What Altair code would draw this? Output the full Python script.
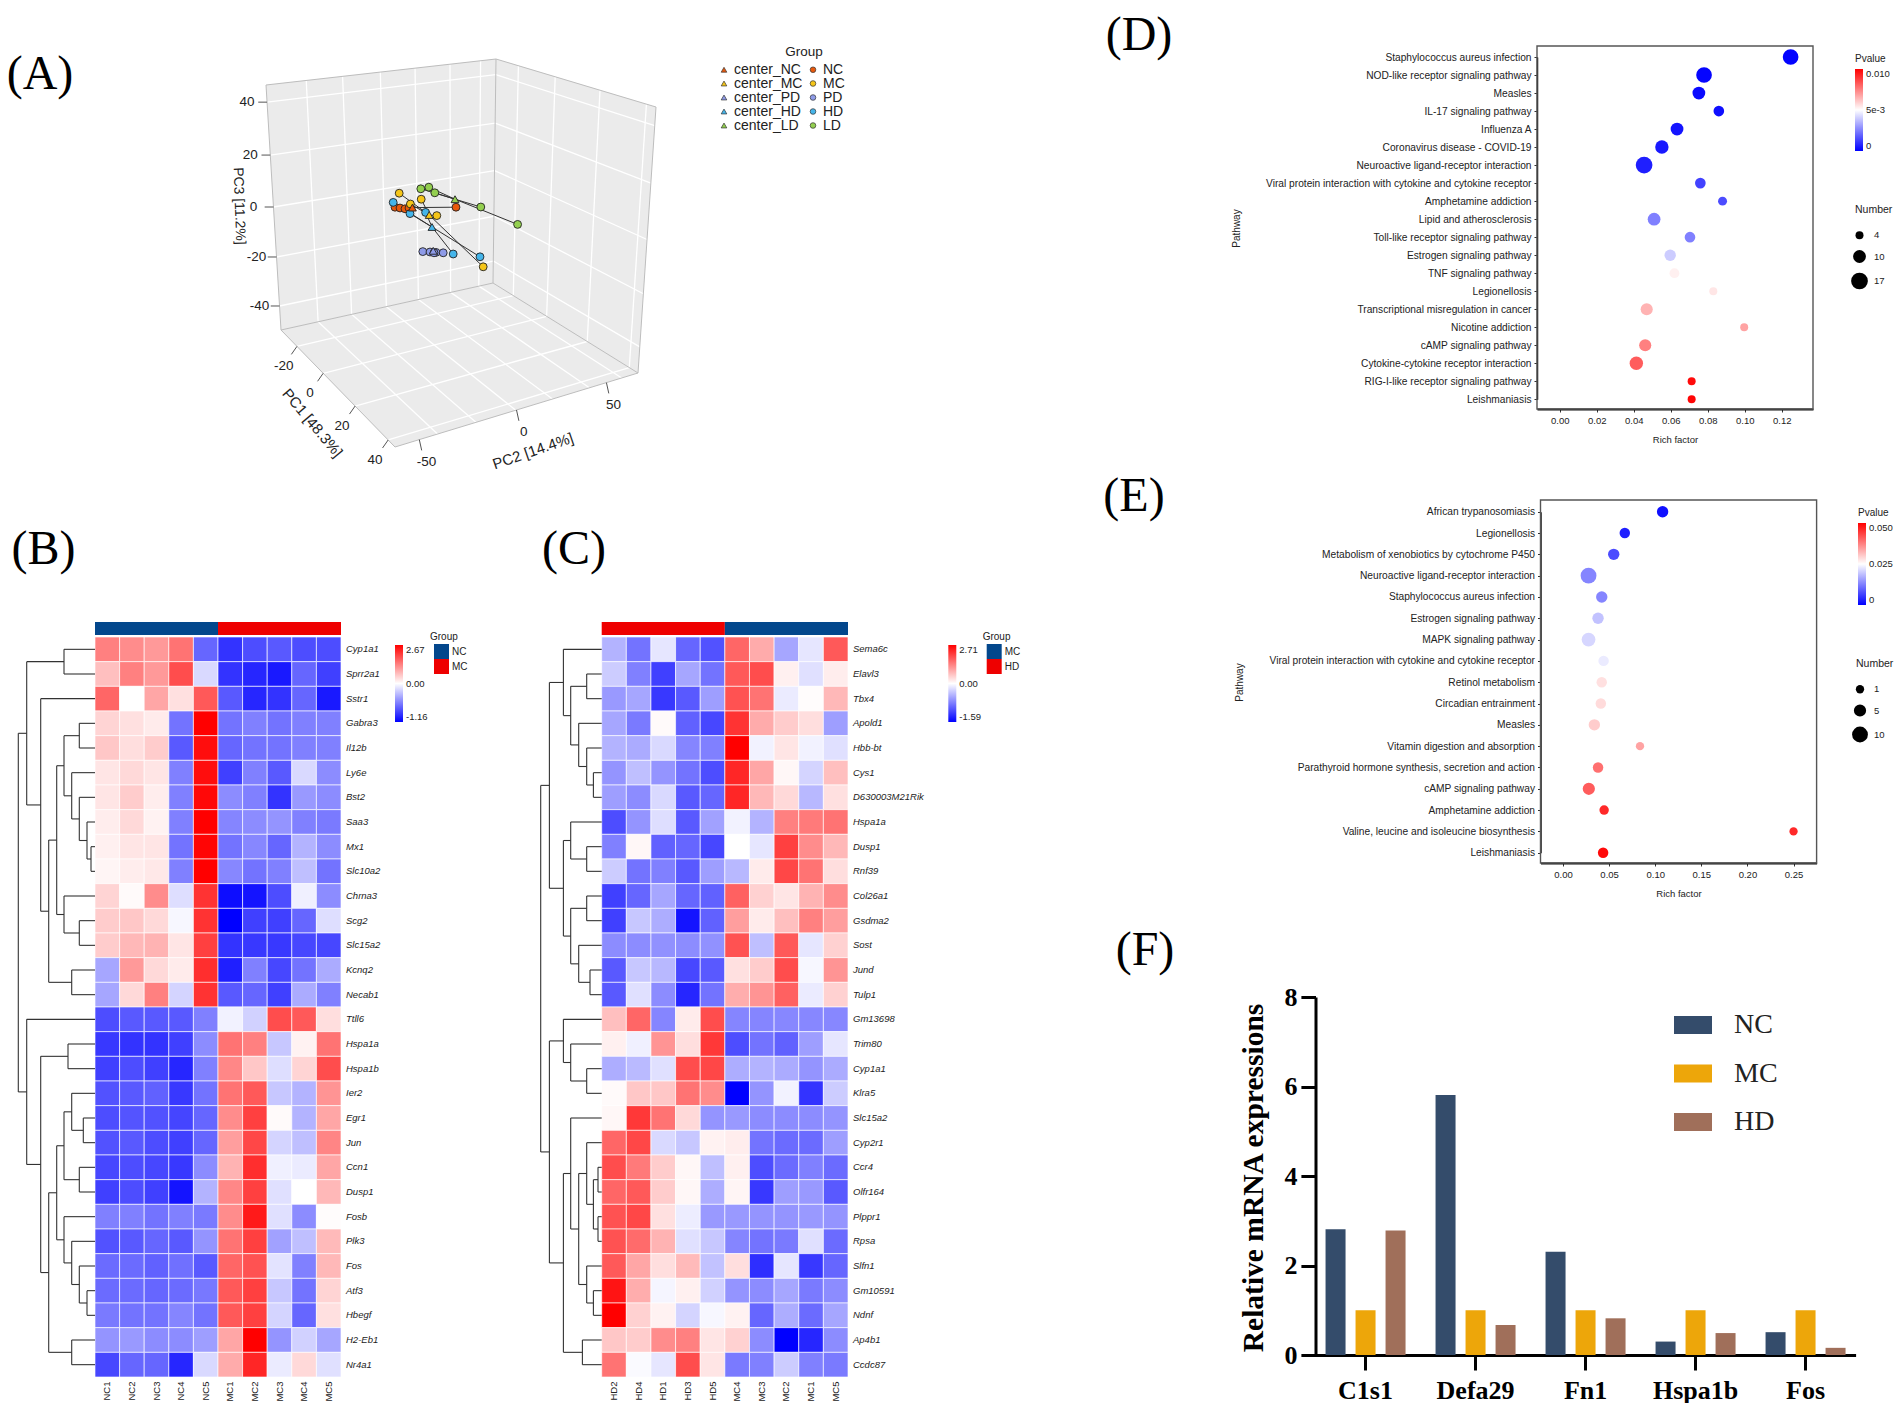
import altair as alt
import pandas as pd
import numpy as np

W, H = 1886, 1395
SANS = "Liberation Sans"
SERIF = "Liberation Serif"
INK = "#222222"

# ---------------- Panel B heat map (values are colour-bar fractions: -1 bottom, +1 top)
B_SAMPLES = ["NC1","NC2","NC3","NC4","NC5","MC1","MC2","MC3","MC4","MC5"]
B_GENES = ["Cyp1a1","Sprr2a1","Sstr1","Gabra3","Il12b","Ly6e","Bst2","Saa3","Mx1","Slc10a2","Chrna3","Scg2","Slc15a2","Kcnq2","Necab1","Ttll6","Hspa1a","Hspa1b","Ier2","Egr1","Jun","Ccn1","Dusp1","Fosb","Plk3","Fos","Atf3","Hbegf","H2-Eb1","Nr4a1"]
B_VALUES = [
 [.5,.45,.4,.55,-.6,-.8,-.7,-.65,-.7,-.7],
 [.25,.5,.4,.7,-.15,-.8,-.85,-.9,-.6,-.75],
 [.6,0,.35,.12,.65,-.65,-.85,-.8,-.6,-.9],
 [.17,.12,.08,-.55,1,-.55,-.5,-.55,-.5,-.5],
 [.22,.13,.2,-.65,.95,-.6,-.55,-.55,-.5,-.5],
 [.1,.15,.1,-.5,.95,-.75,-.5,-.65,-.15,-.45],
 [.1,.2,.07,-.5,.97,-.45,-.5,-.8,-.4,-.45],
 [.07,.15,.05,-.5,1,-.48,-.45,-.42,-.5,-.52],
 [.06,.1,.1,-.55,.98,-.55,-.47,-.6,-.3,-.45],
 [.04,.07,.09,-.5,1,-.47,-.55,-.5,-.25,-.55],
 [.17,.02,.45,-.13,.8,-.95,-.92,-.7,-.06,-.45],
 [.2,.22,.15,-.03,.8,-1,-.75,-.75,-.6,-.13],
 [.2,.28,.3,.1,.75,-.8,-.78,-.78,-.72,-.72],
 [-.35,.4,.15,.08,.82,-.88,-.5,-.72,-.55,-.33],
 [-.35,.15,.5,-.17,.8,-.65,-.6,-.75,-.33,-.5],
 [-.7,-.65,-.65,-.65,-.5,-.05,-.18,.7,.65,.13],
 [-.78,-.8,-.8,-.75,-.45,.55,.5,-.22,.05,.55],
 [-.75,-.7,-.75,-.85,-.5,.47,.22,-.13,.17,.7],
 [-.68,-.65,-.62,-.78,-.55,.55,.65,-.22,-.3,.42],
 [-.7,-.67,-.68,-.73,-.6,.45,.75,.02,-.3,.35],
 [-.68,-.65,-.7,-.75,-.6,.38,.72,-.17,-.25,.48],
 [-.72,-.7,-.72,-.78,-.45,.3,.82,-.06,-.08,.35],
 [-.75,-.7,-.75,-.92,-.3,.47,.75,-.12,0,.28],
 [-.5,-.5,-.55,-.5,-.52,.45,.9,-.12,-.45,.01],
 [-.68,-.65,-.6,-.65,-.42,.55,.75,-.37,-.25,.27],
 [-.58,-.58,-.62,-.56,-.65,.6,.68,-.11,-.5,.28],
 [-.58,-.58,-.6,-.58,-.53,.65,.75,-.22,-.55,.17],
 [-.52,-.55,-.55,-.48,-.55,.65,.75,-.17,-.6,.12],
 [-.42,-.4,-.45,-.45,-.38,.35,1,-.42,-.18,-.35],
 [-.72,-.6,-.6,-.85,-.15,.33,.85,-.08,.15,-.12],
]
B_TREE = (76.7,
  (68.3, (31,"Cyp1a1","Sprr2a1"),
    (54.3,"Sstr1",
      (46.3,
        (38.3,
          (31,(15.7,"Gabra3","Il12b"),
              (23.3,"Ly6e",(15.7,"Bst2",(8,"Saa3",(4,"Mx1","Slc10a2"))))),
          (31,"Chrna3",(15.7,"Scg2","Slc15a2"))),
        (23.3,"Kcnq2","Necab1")))),
  (68.3,"Ttll6",
    (54.3,(27,"Hspa1a","Hspa1b"),
      (46.3,
        (38.3,
          (31,(23.3,"Ier2",(11.7,"Egr1","Jun")),(15.7,"Ccn1","Dusp1")),
          (31,"Fosb",(23.3,"Plk3",(15.7,"Fos",(8,"Atf3","Hbegf"))))),
        (23.3,"H2-Eb1","Nr4a1")))))

# ---------------- Panel C heat map
C_SAMPLES = ["HD2","HD4","HD1","HD3","HD5","MC4","MC3","MC2","MC1","MC5"]
C_GENES = ["Sema6c","Elavl3","Tbx4","Apold1","Hbb-bt","Cys1","D630003M21Rik","Hspa1a","Dusp1","Rnf39","Col26a1","Gsdma2","Sost","Jund","Tulp1","Gm13698","Trim80","Cyp1a1","Klra5","Slc15a2","Cyp2r1","Ccr4","Olfr164","Plppr1","Rpsa","Slfn1","Gm10591","Ndnf","Ap4b1","Ccdc87"]
C_VALUES = [
 [-.3,-.55,-.1,-.6,-.68,.6,.33,-.35,-.1,.65],
 [-.2,-.5,-.75,-.35,-.55,.65,.7,.06,-.12,.07],
 [-.4,-.35,-.78,-.65,-.38,.68,.55,-.08,.01,.28],
 [-.35,-.52,.02,-.62,-.72,.8,.33,.2,.13,-.38],
 [-.3,-.33,-.15,-.48,-.5,1,-.05,.1,-.05,-.12],
 [-.42,-.25,-.42,-.55,-.7,.85,.35,.03,-.17,.25],
 [-.38,-.45,-.15,-.65,-.6,.85,.28,.15,-.28,.12],
 [-.7,-.42,-.13,-.65,-.37,-.05,-.3,.5,.52,.55],
 [-.5,.03,-.62,-.6,-.72,0,-.1,.75,.45,.28],
 [-.2,-.55,-.5,-.65,-.38,-.28,.08,.72,.55,.13],
 [-.75,-.6,-.35,-.6,-.62,.62,.18,.1,.3,.45],
 [-.75,-.22,-.32,-.92,-.62,.38,.08,.25,.5,.38],
 [-.45,-.45,-.43,-.45,-.43,.68,-.25,.65,-.1,.18],
 [-.65,-.22,-.28,-.72,-.65,.12,.2,.7,-.03,.42],
 [-.65,-.12,-.45,-.85,-.55,.32,.42,.62,-.08,.18],
 [.25,.6,-.48,.08,.7,-.48,-.48,-.47,-.47,-.47],
 [.06,-.06,.42,.13,.78,-.7,-.55,-.62,-.38,-.1],
 [-.32,-.27,-.12,.7,.72,-.32,-.3,-.33,-.42,-.33],
 [.02,.22,.22,.55,.45,-1,-.42,-.05,-.8,-.2],
 [.03,.78,.55,.15,-.42,-.4,-.45,-.45,-.45,-.42],
 [.6,.72,-.15,-.22,.05,.07,-.55,-.58,-.58,-.38],
 [.7,.52,.2,.03,-.25,.06,-.7,-.58,-.5,-.58],
 [.6,.65,.2,.03,-.32,.04,-.78,-.38,-.4,-.65],
 [.68,.72,.12,-.07,-.4,-.4,-.42,-.42,-.4,-.42],
 [.68,.58,.3,-.12,-.22,-.48,-.55,-.52,-.12,-.58],
 [.65,.35,.13,.27,-.24,.13,-.82,-.1,-.78,-.6],
 [.92,.32,-.04,.06,-.18,-.42,-.45,-.35,-.52,-.45],
 [1,.18,.05,-.17,-.03,.05,-.6,-.32,-.58,-.35],
 [.22,.2,.45,.5,.1,.18,-.45,-1,-.85,-.45],
 [.55,-.02,-.1,.7,.1,-.52,-.5,-.2,-.5,-.52],
]
C_TREE = (61,
  (52.3,
    (38.3,"Sema6c",
      (31,(15,"Elavl3","Tbx4"),
          (23,"Apold1",(15,"Hbb-bt",(8.3,"Cys1","D630003M21Rik"))))),
    (38.3,
      (31,"Hspa1a",(15,"Dusp1","Rnf39")),
      (31,(15,"Col26a1","Gsdma2"),(23,"Sost",(11.7,"Jund","Tulp1"))))),
  (52.3,
    (38.3,"Gm13698",(31,"Trim80",(15,"Cyp1a1","Klra5"))),
    (38.3,
      (31,"Slc15a2",
        (23,(15,"Cyp2r1",(8.3,(3.7,"Ccr4","Olfr164"),(3.7,"Plppr1","Rpsa"))),
            (15,"Slfn1",(8.3,"Gm10591","Ndnf")))),
      (19.3,"Ap4b1","Ccdc87"))))

# ---------------- Panel D bubble chart
D_PATHWAYS = ["Staphylococcus aureus infection","NOD-like receptor signaling pathway","Measles","IL-17 signaling pathway","Influenza A","Coronavirus disease - COVID-19","Neuroactive ligand-receptor interaction","Viral protein interaction with cytokine and cytokine receptor","Amphetamine addiction","Lipid and atherosclerosis","Toll-like receptor signaling pathway","Estrogen signaling pathway","TNF signaling pathway","Legionellosis","Transcriptional misregulation in cancer","Nicotine addiction","cAMP signaling pathway","Cytokine-cytokine receptor interaction","RIG-I-like receptor signaling pathway","Leishmaniasis"]
D_RICH = [.1248,.078,.0752,.086,.0634,.0552,.0456,.076,.088,.051,.0704,.0597,.062,.083,.047,.0997,.0462,.0414,.0713,.0713]
D_P = [.00005,.0001,.0002,.0003,.0004,.0005,.0006,.0013,.0015,.0025,.0025,.004,.0053,.0055,.0065,.0068,.0075,.0082,.0098,.0099]
D_NUM = [15,15,10,7,10,11,17,7,5,10,7,8,6,4,9,4,9,11,4,4]

# ---------------- Panel E bubble chart
E_PATHWAYS = ["African trypanosomiasis","Legionellosis","Metabolism of xenobiotics by cytochrome P450","Neuroactive ligand-receptor interaction","Staphylococcus aureus infection","Estrogen signaling pathway","MAPK signaling pathway","Viral protein interaction with cytokine and cytokine receptor","Retinol metabolism","Circadian entrainment","Measles","Vitamin digestion and absorption","Parathyroid hormone synthesis, secretion and action","cAMP signaling pathway","Amphetamine addiction","Valine, leucine and isoleucine biosynthesis","Leishmaniasis"]
E_RICH = [.108,.067,.055,.0277,.042,.038,.0277,.044,.042,.041,.034,.0835,.038,.028,.0446,.25,.0435]
E_P = [.0015,.003,.0075,.013,.013,.019,.021,.023,.028,.0285,.03,.034,.039,.041,.046,.046,.049]
E_NUM = [4,3,4,10,4,4,7,3,3,3,4,1,3,5,2,1,3]

# ---------------- Panel F grouped bars
F_GENES = ["C1s1","Defa29","Fn1","Hspa1b","Fos"]
F_GROUPS = ["NC","MC","HD"]
F_NC = [2.81,5.81,2.31,.3,.51]
F_MC = [1,1,1,1,1]
F_HD = [2.78,.67,.82,.49,.16]
F_COLORS = ["#344c6b","#eda60a","#a06f5a"]

# ---------------- Panel A: points (0-100 view units)
A_SAMPLES = {
 "NC": [(33.75,60.7),(35,60.5),(36.25,60.3),(37.25,60.5),(49,60.7)],
 "MC": [(34.8,64.2),(37.6,61.5),(40.3,62.7),(44.2,58.6),(55.8,45.8)],
 "PD": [(40.7,49.6),(42.5,49.5),(44,49.4),(43.5,49.3),(45.8,49.3)],
 "HD": [(33.3,61.9),(37.5,59.1),(41.4,59.4),(48.3,49),(55,48.3)],
 "LD": [(40.2,65.3),(42.2,65.7),(43.7,64.3),(55.2,60.75),(64.4,56.4)],
}
A_CENTERS = {"NC":(38.1,60.6),"MC":(42.3,58.75),"PD":(43.3,49.8),"HD":(43,55.75),"LD":(48.75,62.7)}
A_COLORS = {"NC":"#e8590c","MC":"#f5c518","PD":"#8e9be8","HD":"#45b5ea","LD":"#93cf4f"}
# box corners in the same view units
LT, BT, RT = (1.5,91.25), (59,97.75), (99,85.75)
LB, BB, RB, FB = (5.25,30), (58.25,41.75), (94.5,19.25), (33.75,.75)
PC3_TICKS = [40,20,0,-20,-40];   PC3_FRAC = [.07,.286,.498,.702,.902]
PC1_TICKS = [-20,0,20,40];       PC1_FRAC = [.14,.37,.65,.94]
PC2_GRID_FRAC = [.175,.333,.497,.648,.8,.933]
PC2_TICKS = [-50,0,50];          PC2_FRAC = [.10,.50,.87]

HEAT = ["#0000ff","#ffffff","#ff0000"]
GROUP_BLUE, GROUP_RED = "#03478c", "#ee0000"

def P(v):
    return v - 8

def lerp(a, b, t):
    return (a[0] + (b[0]-a[0])*t, a[1] + (b[1]-a[1])*t)

def tree_segments(tree, genes):
    segs = []
    def walk(node):
        if isinstance(node, str):
            return genes.index(node) + .5, 0.0
        h, l, r = node
        yl, hl = walk(l)
        yr, hr = walk(r)
        segs.append(dict(a=hl, b=h, y=yl, y2=yl))
        segs.append(dict(a=hr, b=h, y=yr, y2=yr))
        segs.append(dict(a=h, b=h, y=yl, y2=yr))
        return (yl+yr)/2, h
    walk(tree)
    return pd.DataFrame(segs)

def heat_panel(samples, genes, values, tree, x0, x1, labels, colors, bar_domain, bar_order, leg_x, grp_x):
    top, bottom = P(637), P(1377)
    rows = [dict(gene=g, sample=s, v=values[i][j]) for i, g in enumerate(genes) for j, s in enumerate(samples)]
    gx = alt.Scale(domain=samples, range=[P(x0), P(x1)], paddingInner=0, paddingOuter=0)
    gy = alt.Scale(domain=genes, range=[top, bottom], paddingInner=0, paddingOuter=0)
    expr = f"datum.value > 0.5 ? '{labels[0]}' : datum.value < -0.5 ? '{labels[2]}' : '{labels[1]}'"
    cells = alt.Chart(pd.DataFrame(rows)).mark_rect(stroke="#ffffff", strokeWidth=.8, strokeOpacity=.8).encode(
        x=alt.X("sample:N", scale=gx, sort=samples, title=None,
                axis=alt.Axis(orient="bottom", offset=bottom-H, domain=False, ticks=False, labelAngle=270,
                              labelFont=SANS, labelFontSize=9.5, labelColor=INK, labelPadding=4, labelOverlap=False,
                              labelAlign="right", labelBaseline="middle")),
        y=alt.Y("gene:N", scale=gy, sort=genes, title=None,
                axis=alt.Axis(orient="right", offset=P(x1)-W, domain=False, ticks=False,
                              labelFont=SANS, labelFontSize=9.5, labelFontStyle="italic", labelColor=INK,
                              labelPadding=4.5, labelOverlap=False)),
        color=alt.Color("v:Q", scale=alt.Scale(domain=[-1,0,1], range=HEAT, interpolate="rgb"),
                        legend=alt.Legend(orient="none", legendX=P(leg_x), legendY=P(645), title=None,
                                          values=[1,0,-1], labelExpr=expr, gradientLength=77, gradientThickness=8,
                                          labelFont=SANS, labelFontSize=9.5, labelColor=INK, labelOffset=3)),
    )
    start = 0
    bars = []
    for name in bar_order:
        bars.append(dict(group=name, s=start, e=start+5, t=0, b=1))
        start += 5
    bar = alt.Chart(pd.DataFrame(bars)).mark_rect().encode(
        x=alt.X("s:Q", scale=alt.Scale(domain=[0,10], range=[P(x0), P(x1)], nice=False, zero=False), axis=None),
        x2="e:Q",
        y=alt.Y("t:Q", scale=alt.Scale(domain=[0,1], range=[P(622), P(635)], nice=False, zero=False), axis=None),
        y2="b:Q",
        color=alt.Color("group:N", scale=alt.Scale(domain=bar_domain, range=colors),
                        legend=alt.Legend(orient="none", legendX=P(grp_x), legendY=P(632), title="Group",
                                          titleFont=SANS, titleFontSize=10, titleFontWeight="normal", titleColor=INK,
                                          titlePadding=2, symbolType="square", symbolSize=225, symbolStrokeWidth=0,
                                          symbolOpacity=1, symbolOffset=4, rowPadding=0, labelFont=SANS,
                                          labelFontSize=10, labelColor=INK, labelOffset=3)),
    )
    seg_df = tree_segments(tree, genes)
    span = 80
    dend = alt.Chart(seg_df).mark_rule(color="#333333", strokeWidth=1.1).encode(
        x=alt.X("a:Q", scale=alt.Scale(domain=[0,span], range=[P(x0), P(x0)-span], nice=False, zero=False), axis=None),
        x2="b:Q",
        y=alt.Y("y:Q", scale=alt.Scale(domain=[0,len(genes)], range=[top, bottom], nice=False, zero=False), axis=None),
        y2="y2:Q",
    )
    return [cells, bar, dend]

def bubble_panel(names, rich, pv, num, x0, x1, y0, y1, row0, rowN, xdom, xticks, pdom, plabels, sizedom, sizerange, sizevals,
                 leg_x, leg_y, num_x, num_y, path_x, path_y, rich_x, rich_y):
    df = pd.DataFrame(dict(name=names, rich=rich, p=pv, n=num))
    xs = alt.Scale(domain=xdom, range=[P(x0), P(x1)], nice=False, zero=False)
    frame = alt.Chart(pd.DataFrame([dict(a=xdom[0], b=xdom[1], c=0, d=1)])).mark_rect(fill=None, stroke="#555555", strokeWidth=1.4).encode(
        x=alt.X("a:Q", scale=xs, axis=None), x2="b:Q",
        y=alt.Y("c:Q", scale=alt.Scale(domain=[0,1], range=[P(y1), P(y0)], nice=False, zero=False), axis=None), y2="d:Q")
    expr = f"datum.value > {pdom[1]*1.5} ? '{plabels[0]}' : datum.value > {pdom[1]*.5} ? '{plabels[1]}' : '{plabels[2]}'"
    pts = alt.Chart(df).mark_circle(opacity=1).encode(
        x=alt.X("rich:Q", scale=xs, title="Rich factor",
                axis=alt.Axis(orient="bottom", offset=P(y1)-H, values=xticks, format=".2f", domainColor="#111111", domainWidth=2,
                              tickColor="#333333", tickSize=3, labelFont=SANS, labelFontSize=9.5, labelColor=INK, labelPadding=3,
                              grid=False, titleFont=SANS, titleFontSize=9.5, titleFontWeight="normal", titleColor=INK,
                              titleX=P(rich_x), titleY=rich_y-y1, titleAlign="center", titleBaseline="middle")),
        y=alt.Y("name:N", sort=names, title="Pathway",
                scale=alt.Scale(type="point", domain=names, range=[P(row0), P(rowN)], padding=0),
                axis=alt.Axis(orient="left", offset=-P(x0), domainColor="#111111", domainWidth=1.5, tickColor="#333333", tickSize=3,
                              labelFont=SANS, labelFontSize=10.2, labelColor=INK, labelPadding=3, labelOverlap=False, labelLimit=400,
                              grid=False, titleFont=SANS, titleFontSize=10, titleFontWeight="normal", titleColor=INK,
                              titleX=path_x-x0, titleY=P(path_y), titleAngle=270, titleAlign="center", titleBaseline="middle")),
        color=alt.Color("p:Q", scale=alt.Scale(domain=pdom, range=HEAT, interpolate="rgb"),
                        legend=alt.Legend(orient="none", legendX=P(leg_x), legendY=P(leg_y), title="Pvalue", values=pdom[::-1],
                                          labelExpr=expr, gradientLength=82, gradientThickness=8, titleFont=SANS, titleFontSize=10,
                                          titleFontWeight="normal", titleColor=INK, titlePadding=5, labelFont=SANS, labelFontSize=9.5,
                                          labelColor=INK, labelOffset=3)),
        size=alt.Size("n:Q", scale=alt.Scale(domain=sizedom, range=sizerange, zero=False, nice=False),
                      legend=alt.Legend(orient="none", legendX=P(num_x), legendY=P(num_y), title="Number", values=sizevals,
                                        symbolFillColor="#000000", symbolStrokeWidth=0, symbolOpacity=1, titleFont=SANS,
                                        titleFontSize=10.5, titleFontWeight="normal", titleColor=INK, titlePadding=15,
                                        symbolOffset=-4, labelFont=SANS, labelFontSize=9.5, labelColor=INK, rowPadding=9.5, labelOffset=6)),
    )
    return [frame, pts]

# ------------------- Panel A layers
AX = alt.Scale(domain=[0,100], range=[252,652], nice=False, zero=False)
AY = alt.Scale(domain=[0,100], range=[442,42], nice=False, zero=False)

def poly_area(poly, face):
    xs = sorted(p[0] for p in poly)
    n = len(poly)
    out = []
    for x in xs:
        ys = []
        for i in range(n):
            a, b = poly[i], poly[(i+1) % n]
            lo, hi = min(a[0], b[0]), max(a[0], b[0])
            if lo <= x <= hi and hi > lo:
                ys.append(a[1] + (b[1]-a[1])*(x-a[0])/(b[0]-a[0]))
        out.append(dict(face=face, u=x, v=max(ys), v2=min(ys)))
    return out

def seg(a, b):
    return dict(u=a[0], v=a[1], u2=b[0], v2=b[1])

def a_rules(segs, color, width):
    return alt.Chart(pd.DataFrame(segs)).mark_rule(color=color, strokeWidth=width).encode(
        x=alt.X("u:Q", scale=AX, axis=None), x2="u2:Q",
        y=alt.Y("v:Q", scale=AY, axis=None), y2="v2:Q")

def a_text(rows, size, angle=0, weight="normal"):
    return alt.Chart(pd.DataFrame(rows)).mark_text(font=SANS, fontSize=size, angle=angle, color=INK, fontWeight=weight,
                                                   align="center", baseline="middle").encode(
        x=alt.X("u:Q", scale=AX, axis=None), y=alt.Y("v:Q", scale=AY, axis=None), text="t:N")

walls = poly_area([LT,BT,BB,LB],"left") + poly_area([BT,RT,RB,BB],"right") + poly_area([LB,BB,RB,FB],"floor")
a_walls = alt.Chart(pd.DataFrame(walls)).mark_area(color="#ebebeb", opacity=1).encode(
    x=alt.X("u:Q", scale=AX, axis=None), y=alt.Y("v:Q", scale=AY, axis=None), y2="v2:Q", detail="face:N")

grid = []
for t in PC2_GRID_FRAC:
    grid.append(seg(lerp(LT,BT,t), lerp(LB,BB,t)))
    grid.append(seg(lerp(LB,BB,t), lerp(FB,RB,t)))
for s in PC3_FRAC:
    grid.append(seg(lerp(LT,LB,s), lerp(BT,BB,s)))
    grid.append(seg(lerp(BT,BB,s), lerp(RT,RB,s)))
for f in PC1_FRAC:
    grid.append(seg(lerp(BT,RT,f), lerp(BB,RB,f)))
    grid.append(seg(lerp(LB,FB,f), lerp(BB,RB,f)))
a_grid = a_rules(grid, "#ffffff", 1.3)
edges = [seg(LT,BT), seg(BT,RT), seg(LT,LB), seg(BT,BB), seg(LB,BB), seg(BB,RB), seg(LB,FB), seg(FB,RB), seg(RT,RB)]
a_edges = a_rules(edges, "#bdbdbd", 1)

ticks, tick_labels = [], []
for val, s in zip(PC3_TICKS, PC3_FRAC):
    p = lerp(LT,LB,s)
    ticks.append(seg(p, (p[0]-2.2, p[1])))
    tick_labels.append(dict(u=p[0]-5, v=p[1], t=str(val)))
for val, f in zip(PC1_TICKS, PC1_FRAC):
    p = lerp(LB,FB,f)
    ticks.append(seg(p, (p[0]-1.4, p[1]-2)))
    tick_labels.append(dict(u=p[0]-3.3, v=p[1]-4.9, t=str(val)))
for val, f in zip(PC2_TICKS, PC2_FRAC):
    p = lerp(FB,RB,f)
    ticks.append(seg(p, (p[0]+.6, p[1]-2.7)))
    tick_labels.append(dict(u=p[0]+1.8, v=p[1]-5.6, t=str(val)))
a_ticks = a_rules(ticks, "#555555", 1)
a_tick_text = a_text(tick_labels, 13.5)
a_t3 = a_text([dict(u=-5.25, v=61, t="PC3 [11.2%]")], 14, 88)
a_t1 = a_text([dict(u=13.1, v=6.75, t="PC1 [48.3%]")], 15, 50)
a_t2 = a_text([dict(u=68.25, v=-.25, t="PC2 [14.4%]")], 15, 341)
a_group = a_text([dict(u=136, v=99.5, t="Group")], 13.5)

a_links_rows = []
a_pts_rows = []
for g, pts in A_SAMPLES.items():
    for p in pts:
        a_links_rows.append(seg(A_CENTERS[g], p))
        a_pts_rows.append(dict(u=p[0], v=p[1], k=g))
for g, c in A_CENTERS.items():
    a_pts_rows.append(dict(u=c[0], v=c[1], k="center_"+g))
a_links = a_rules(a_links_rows, "#333333", 1)
groups = list(A_CENTERS)
a_domain = ["center_"+g for g in groups] + groups
a_points = alt.Chart(pd.DataFrame(a_pts_rows)).mark_point(filled=True, opacity=1, stroke="#222222", strokeWidth=.9, size=62).encode(
    x=alt.X("u:Q", scale=AX, axis=None),
    y=alt.Y("v:Q", scale=AY, axis=None),
    color=alt.Color("k:N", scale=alt.Scale(domain=a_domain, range=[A_COLORS[g] for g in groups]*2),
                    legend=alt.Legend(orient="none", legendX=P(717), legendY=P(63), title=None, columns=2, columnPadding=3,
                                      rowPadding=-2.7, symbolSize=32, symbolStrokeColor="#333333", symbolStrokeWidth=.7,
                                      labelFont=SANS, labelFontSize=14, labelColor=INK, labelOffset=3, clipHeight=13)),
    shape=alt.Shape("k:N", scale=alt.Scale(domain=a_domain, range=["triangle-up"]*5+["circle"]*5)),
)

# ------------------- Panel F
f_rows = [dict(gene=g, group=n, v=v) for n, vals in zip(F_GROUPS, [F_NC,F_MC,F_HD]) for g, v in zip(F_GENES, vals)]
f_bars = alt.Chart(pd.DataFrame(f_rows)).mark_bar().encode(
    x=alt.X("gene:N", sort=F_GENES, title=None,
            scale=alt.Scale(domain=F_GENES, range=[P(1315.5), P(1855.6)], paddingInner=.1818, paddingOuter=.0459),
            axis=alt.Axis(orient="bottom", offset=P(1355)-H, labelAngle=0, domainColor="#000000", domainWidth=3, tickColor="#000000",
                          tickWidth=3, tickSize=15, labelFont=SERIF, labelFontSize=26, labelFontWeight="bold", labelColor="#000000",
                          labelPadding=7, labelOverlap=False, grid=False)),
    xOffset=alt.XOffset("group:N", sort=F_GROUPS, scale=alt.Scale(domain=F_GROUPS, paddingInner=1/3, paddingOuter=1/6)),
    y=alt.Y("v:Q", title="Relative mRNA expressions",
            scale=alt.Scale(domain=[0,8], range=[P(1355), P(997)], nice=False, zero=False),
            axis=alt.Axis(orient="left", offset=-P(1315.5), values=[0,2,4,6,8], format="d", domainColor="#000000", domainWidth=3,
                          tickColor="#000000", tickWidth=3, tickSize=14.6, labelFont=SERIF, labelFontSize=26, labelFontWeight="bold",
                          labelColor="#000000", labelPadding=4, grid=False, titleFont=SERIF, titleFontSize=29.5, titleFontWeight="bold",
                          titleColor="#000000", titleX=1253-1315.5, titleY=P(1177.5), titleAngle=270, titleAlign="center",
                          titleBaseline="middle")),
    color=alt.Color("group:N", scale=alt.Scale(domain=F_GROUPS, range=F_COLORS),
                    legend=alt.Legend(orient="none", legendX=P(1674), legendY=P(1006), title=None,
                                      symbolType="M-1,-0.47H1V0.47H-1Z", symbolSize=1444, symbolStrokeWidth=0, symbolOpacity=1,
                                      rowPadding=15.5, labelFont=SERIF, labelFontSize=28, labelColor=INK, labelOffset=22)),
)

def letter(t, x, y):
    return alt.Chart(pd.DataFrame([dict(t=t)])).mark_text(font=SERIF, fontSize=48, color="#000000", align="center", baseline="middle").encode(
        x=alt.value(P(x)), y=alt.value(P(y)), text="t:N")

letters = [letter("(A)",40,75), letter("(B)",43.5,550), letter("(C)",574,550), letter("(D)",1139,36), letter("(E)",1134,497), letter("(F)",1145,951)]

layers = [a_walls, a_grid, a_edges, a_ticks, a_tick_text, a_t3, a_t1, a_t2, a_group, a_links, a_points]
layers += heat_panel(B_SAMPLES, B_GENES, B_VALUES, B_TREE, 95, 341, ["2.67","0.00","-1.16"],
                     [GROUP_BLUE, GROUP_RED], ["NC","MC"], ["NC","MC"], 395, 430)
layers += heat_panel(C_SAMPLES, C_GENES, C_VALUES, C_TREE, 601.7, 848, ["2.71","0.00","-1.59"],
                     [GROUP_BLUE, GROUP_RED], ["MC","HD"], ["HD","MC"], 948.3, 982.7)
layers += bubble_panel(D_PATHWAYS, D_RICH, D_P, D_NUM, 1537, 1813, 46, 409, 57, 399.3, [-.0123,.1369], [0,.02,.04,.06,.08,.10,.12],
                       [0,.005,.01], ["0.010","5e-3","0"], [4,17], [64,279], [4,10,17], 1855, 54, 1855, 205, 1236, 228, 1675, 439)
layers += bubble_panel(E_PATHWAYS, E_RICH, E_P, E_NUM, 1540.5, 1816.6, 500, 863, 511.7, 852.7, [-.0244,.275], [0,.05,.10,.15,.20,.25],
                       [0,.025,.05], ["0.050","0.025","0"], [1,10], [69,250], [1,5,10], 1858, 508, 1856, 659, 1239.5, 682, 1678.5, 893)
layers += [f_bars] + letters

chart = alt.layer(*layers).resolve_scale(x="independent", y="independent", color="independent", size="independent", shape="independent", xOffset="independent").properties(
    width=W, height=H, padding=0, autosize=alt.AutoSizeParams(type="none"), background="#ffffff"
).configure_view(stroke=None)

chart.save("out.html", embed_options={"renderer": "svg", "actions": False})
